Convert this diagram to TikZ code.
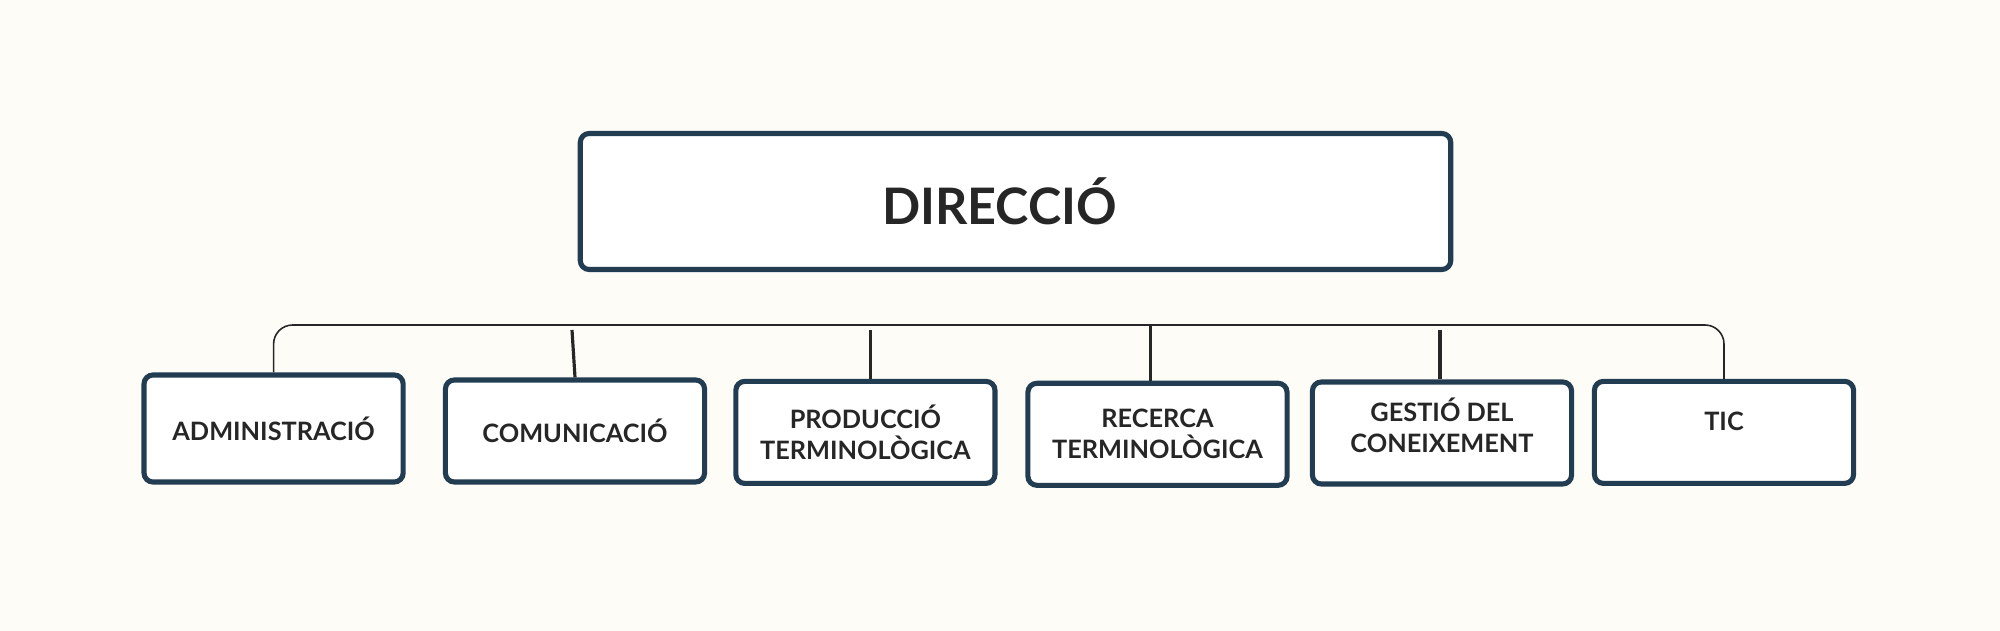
\documentclass[tikz,border=0pt]{standalone}
\usepackage{fontspec}
\setmainfont{Lato}
\usetikzlibrary{positioning}
\definecolor{bgcream}{HTML}{FDFCF7}
\definecolor{boxblue}{HTML}{223D52}
\definecolor{inkgray}{HTML}{262626}

\begin{document}
\begin{tikzpicture}[x=0.01cm,y=-0.01cm,
  headbox/.style={draw=boxblue,line width=1.45pt,fill=white,rounded corners=0.09cm,
    minimum width=8.70cm,minimum height=1.36cm,text=inkgray,
    font=\fontsize{14.3}{17}\selectfont\bfseries},
  unitbox/.style={draw=boxblue,line width=1.45pt,fill=white,rounded corners=0.09cm,
    minimum width=2.59cm,minimum height=1.02cm,align=center,inner sep=0pt,text=inkgray,
    font=\fontsize{7.2}{8.8}\selectfont\bfseries},
  busline/.style={draw=inkgray,line width=0.45pt,rounded corners=0.19cm},
  tickline/.style={draw=inkgray,line width=0.9pt}]
\fill[bgcream] (0,0) rectangle (2000,631);
% top box
\node[headbox] (direccio) at (1015.5,201.5) {\hspace*{-0.32cm}DIRECCIÓ};
% units
\node[unitbox,minimum height=1.07cm] (admin) at (273.6,428.5) {ADMINISTRACIÓ};
\node[unitbox] (comunicacio) at (575,431) {COMUNICACIÓ};
\node[unitbox] (produccio) at (865.4,432.4) {PRODUCCIÓ\\TERMINOLÒGICA};
\node[unitbox] (recerca) at (1157.5,434.3) {RECERCA\\TERMINOLÒGICA};
\node[unitbox,text depth=0.15cm] (gestio) at (1442,433) {GESTIÓ DEL\\CONEIXEMENT};
\node[unitbox,text depth=0.22cm] (tic) at (1724,432.4) {TIC};
% bus and ticks
\coordinate (bus) at (0,325);
\coordinate (tickTop) at (0,330);
\draw[busline] (admin.north) |- (tic.north |- bus) -- (tic.north);
\draw[tickline] (comunicacio.north) -- ([xshift=-0.03cm]comunicacio.north |- tickTop);
\draw[tickline] ([xshift=0.05cm]produccio.north) -- ([xshift=0.05cm]produccio.north |- tickTop);
\draw[tickline] ([xshift=-0.07cm]recerca.north) -- ([xshift=-0.07cm]recerca.north |- bus);
\draw[tickline] ([xshift=-0.02cm]gestio.north) -- ([xshift=-0.02cm]gestio.north |- tickTop);
\end{tikzpicture}
\end{document}
